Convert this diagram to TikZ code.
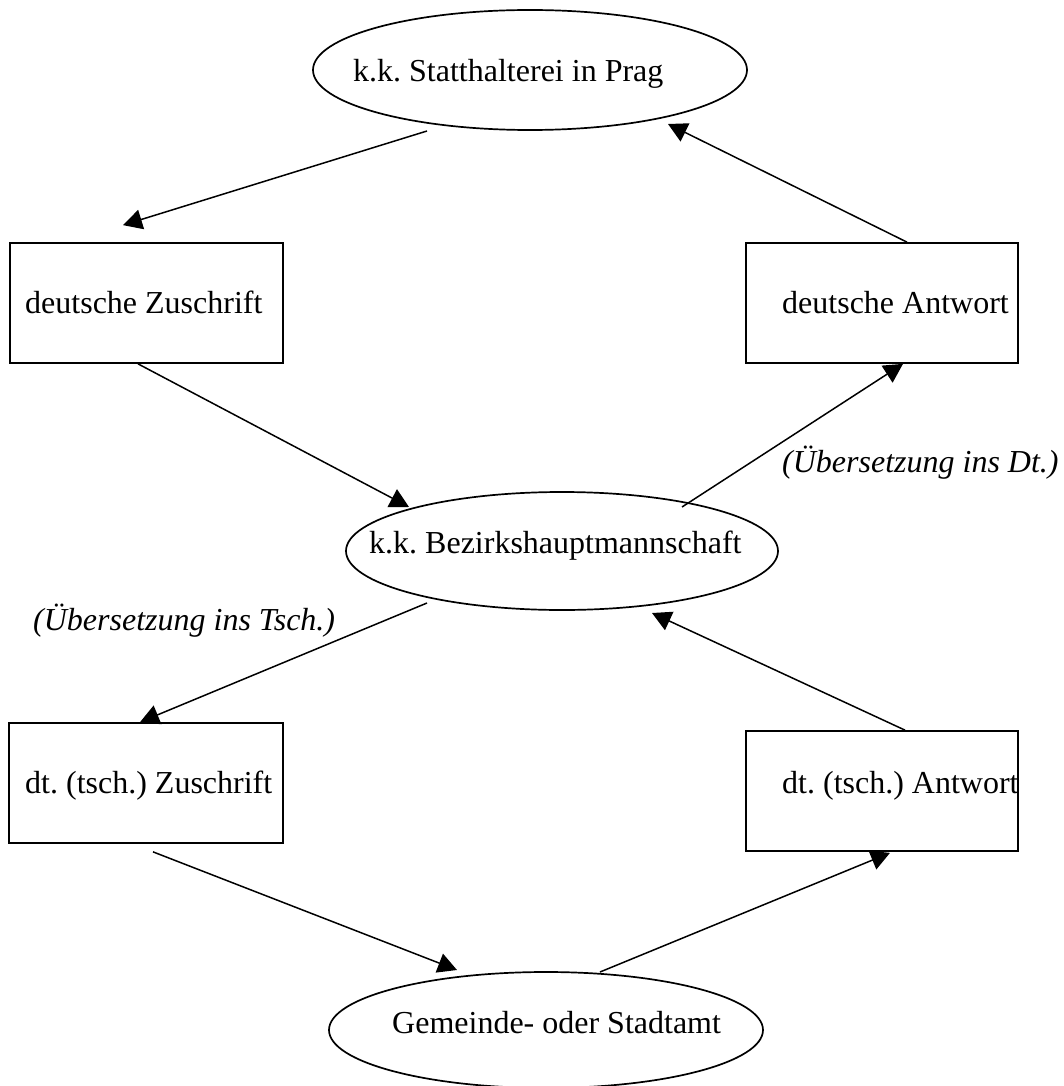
\documentclass[tikz,border=0pt]{standalone}
\usepackage{fontspec}
\setmainfont{Liberation Serif}
\usetikzlibrary{shapes.geometric,arrows.meta}
\frenchspacing
\begin{document}
\begin{tikzpicture}[x=1pt,y=-1pt,
  ell/.style={draw,ellipse,line width=1.7pt,inner sep=0pt},
  box/.style={draw,rectangle,line width=1.7pt,inner sep=0pt},
  txt/.style={anchor=base west,inner sep=0pt,font=\fontsize{32}{38}\selectfont},
  lbl/.style={anchor=base west,inner sep=0pt,font=\fontsize{32}{38}\selectfont\itshape},
  arr/.style={line width=1.5pt,-{Triangle[length=19pt,width=20pt]}}]
\useasboundingbox (0,0) rectangle (1064,1086);
% shapes
\node[ell,minimum width=434pt,minimum height=120pt] (e1) at (530,70) {};
\node[box,minimum width=273pt,minimum height=120pt] (b1) at (146.5,303) {};
\node[box,minimum width=272pt,minimum height=120pt] (b2) at (882,303) {};
\node[ell,minimum width=432pt,minimum height=118pt] (e2) at (562,551) {};
\node[box,minimum width=274pt,minimum height=120pt] (b3) at (146,783) {};
\node[box,minimum width=272pt,minimum height=120pt] (b4) at (882,791) {};
\node[ell,minimum width=434pt,minimum height=116pt] (e3) at (546,1030) {};
% texts
\node[txt] (t1) at (353,82) {k.k. Statthalterei in Prag};
\node[txt] (t2) at (25,313) {deutsche Zuschrift};
\node[txt] (t3) at (782,313) {deutsche Antwort};
\node[txt] (t4) at (369,553) {k.k. Bezirkshauptmannschaft};
\node[txt] (t5) at (25,793) {dt. (tsch.) Zuschrift};
\node[txt] (t6) at (782,793) {dt. (tsch.) Antwort};
\node[txt] (t7) at (392,1033) {Gemeinde- oder Stadtamt};
\node[lbl] (l1) at (782,472) {(Übersetzung ins Dt.)};
\node[lbl] (l2) at (33,630) {(Übersetzung ins Tsch.)};
% connectors
\draw[arr] ([shift={(-103,61)}]e1.center) -- ([shift={(-23.5,-17)}]b1.north);
\draw[arr] ([shift={(-8.5,0)}]b1.south) -- ([shift={(-153,-44)}]e2.center);
\draw[arr] ([shift={(120,-44)}]e2.center) -- ([shift={(21,0)}]b2.south);
\draw[arr] ([shift={(25,0)}]b2.north) -- ([shift={(138,54)}]e1.center);
\draw[arr] ([shift={(-135,52)}]e2.center) -- ([shift={(-6,0)}]b3.north);
\draw[arr] ([shift={(23,0)}]b4.north) -- ([shift={(90,62)}]e2.center);
\draw[arr] ([shift={(7,8)}]b3.south) -- ([shift={(-89,-60)}]e3.center);
\draw[arr] ([shift={(54,-58)}]e3.center) -- ([shift={(8,1)}]b4.south);
\end{tikzpicture}
\end{document}
